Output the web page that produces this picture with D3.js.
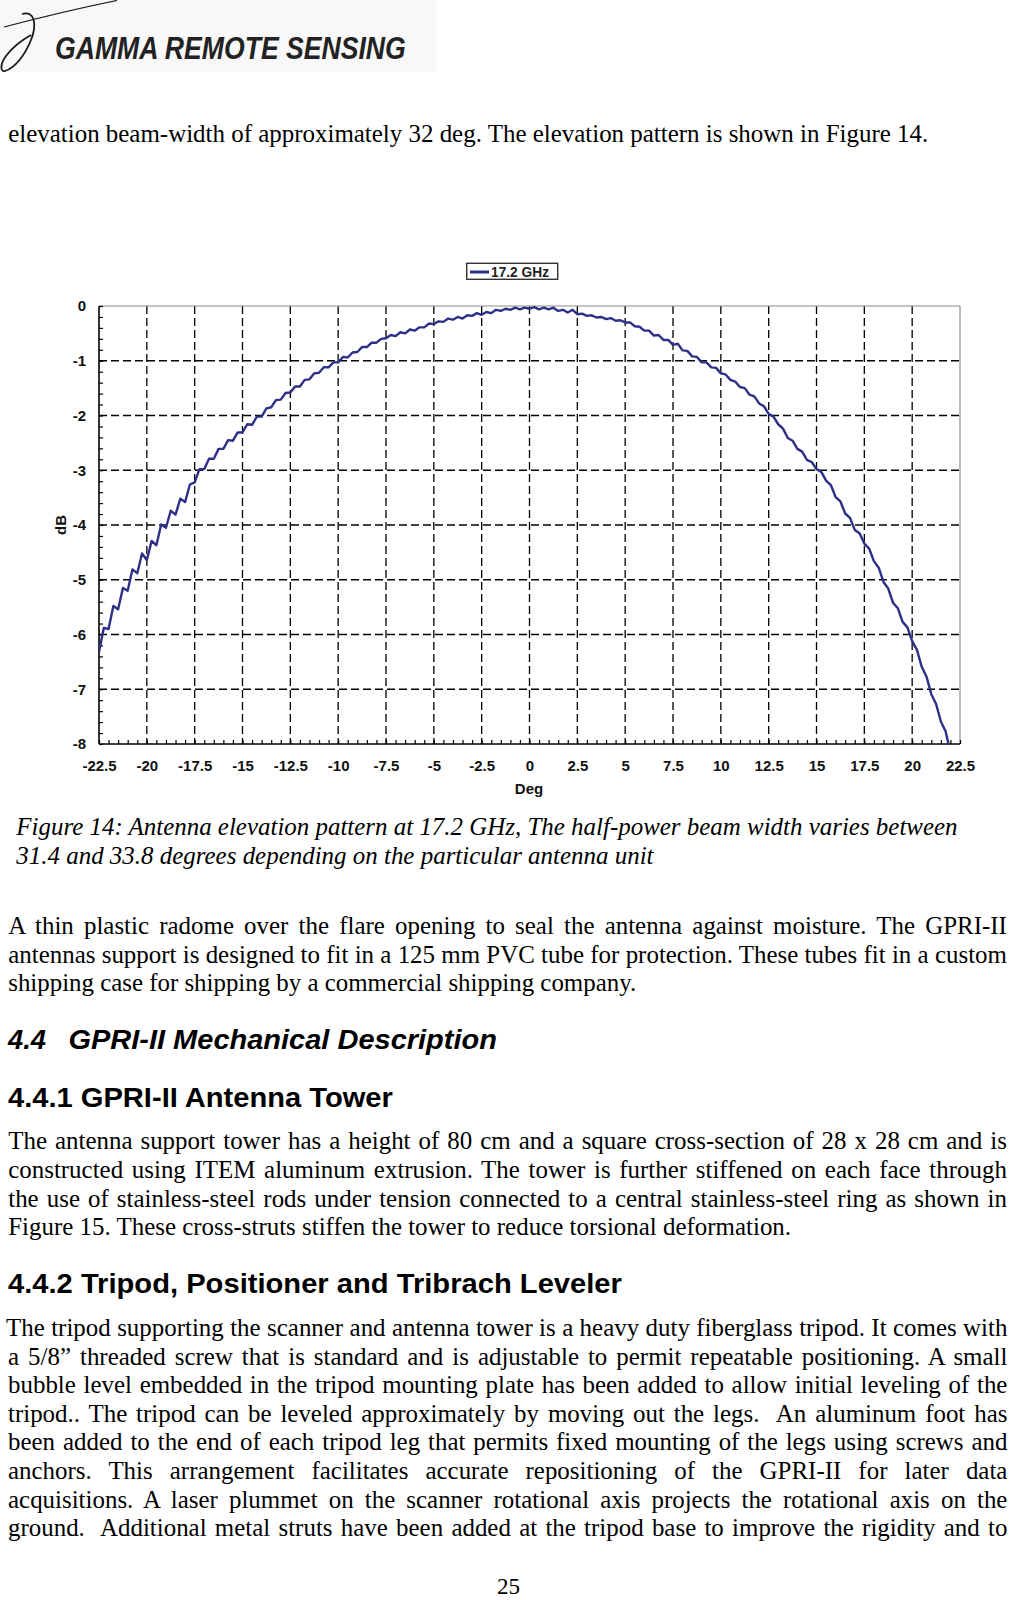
<!DOCTYPE html>
<html>
<head>
<meta charset="utf-8">
<script src="https://cdn.jsdelivr.net/npm/d3@7"></script>
<style>
  html, body { margin: 0; padding: 0; background: #fff; }
  svg { display: block; }
  text { white-space: pre; }
</style>
</head>
<body>
<svg id="page" width="1009" height="1600"></svg>
<script>
// ---------------- DATA ----------------
const seriesName = "17.2 GHz";
const degValues = [
 -22.5,-22.25,-22,-21.75,-21.5,-21.25,-21,-20.75,-20.5,-20.25,-20,-19.75,-19.5,-19.25,-19,-18.75,-18.5,-18.25,-18,-17.75,
 -17.5,-17.25,-17,-16.75,-16.5,-16.25,-16,-15.75,-15.5,-15.25,-15,-14.75,-14.5,-14.25,-14,-13.75,-13.5,-13.25,-13,-12.75,
 -12.5,-12.25,-12,-11.75,-11.5,-11.25,-11,-10.75,-10.5,-10.25,-10,-9.75,-9.5,-9.25,-9,-8.75,-8.5,-8.25,-8,-7.75,
 -7.5,-7.25,-7,-6.75,-6.5,-6.25,-6,-5.75,-5.5,-5.25,-5,-4.75,-4.5,-4.25,-4,-3.75,-3.5,-3.25,-3,-2.75,
 -2.5,-2.25,-2,-1.75,-1.5,-1.25,-1,-0.75,-0.5,-0.25,0,0.25,0.5,0.75,1,1.25,1.5,1.75,2,2.25,
 2.5,2.75,3,3.25,3.5,3.75,4,4.25,4.5,4.75,5,5.25,5.5,5.75,6,6.25,6.5,6.75,7,7.25,
 7.5,7.75,8,8.25,8.5,8.75,9,9.25,9.5,9.75,10,10.25,10.5,10.75,11,11.25,11.5,11.75,12,12.25,
 12.5,12.75,13,13.25,13.5,13.75,14,14.25,14.5,14.75,15,15.25,15.5,15.75,16,16.25,16.5,16.75,17,17.25,
 17.5,17.75,18,18.25,18.5,18.75,19,19.25,19.5,19.75,20,20.25,20.5,20.75,21,21.25,21.5,21.75,21.9
];
const dbValues = [
 -6.32,-5.88,-5.90,-5.48,-5.54,-5.15,-5.20,-4.81,-4.88,-4.52,-4.64,-4.29,-4.37,-3.99,-4.05,-3.74,-3.81,-3.52,-3.58,-3.26,
 -3.22,-2.98,-2.98,-2.79,-2.79,-2.61,-2.61,-2.45,-2.46,-2.31,-2.31,-2.16,-2.17,-2.02,-2.02,-1.87,-1.85,-1.72,-1.71,-1.59,
 -1.58,-1.47,-1.47,-1.35,-1.34,-1.23,-1.22,-1.12,-1.12,-1.03,-1.03,-0.93,-0.94,-0.85,-0.84,-0.75,-0.75,-0.67,-0.67,-0.60,
 -0.59,-0.53,-0.55,-0.48,-0.50,-0.43,-0.45,-0.39,-0.39,-0.32,-0.33,-0.28,-0.29,-0.23,-0.25,-0.20,-0.23,-0.17,-0.18,-0.13,
 -0.16,-0.11,-0.13,-0.07,-0.09,-0.05,-0.07,-0.03,-0.06,-0.03,-0.05,-0.02,-0.06,-0.03,-0.06,-0.03,-0.09,-0.07,-0.12,-0.07,
 -0.15,-0.14,-0.18,-0.17,-0.21,-0.20,-0.24,-0.22,-0.27,-0.26,-0.30,-0.30,-0.37,-0.38,-0.45,-0.45,-0.54,-0.53,-0.62,-0.62,
 -0.71,-0.69,-0.81,-0.82,-0.92,-0.93,-1.03,-1.03,-1.12,-1.13,-1.23,-1.25,-1.35,-1.38,-1.48,-1.50,-1.62,-1.65,-1.78,-1.83,
 -1.97,-2.02,-2.16,-2.24,-2.41,-2.46,-2.61,-2.66,-2.81,-2.85,-2.98,-3.03,-3.19,-3.27,-3.49,-3.57,-3.79,-3.87,-4.09,-4.15,
 -4.34,-4.43,-4.66,-4.78,-5.04,-5.16,-5.42,-5.52,-5.77,-5.87,-6.12,-6.28,-6.59,-6.77,-7.09,-7.27,-7.59,-7.77,-8.00
];
const xTickValues = [-22.5,-20,-17.5,-15,-12.5,-10,-7.5,-5,-2.5,0,2.5,5,7.5,10,12.5,15,17.5,20,22.5];
const xTickLabels = ["-22.5","-20","-17.5","-15","-12.5","-10","-7.5","-5","-2.5","0","2.5","5","7.5","10","12.5","15","17.5","20","22.5"];
const yTickValues = [0,-1,-2,-3,-4,-5,-6,-7,-8];
const yTickLabels = ["0","-1","-2","-3","-4","-5","-6","-7","-8"];
const xAxisTitle = "Deg";
const yAxisTitle = "dB";

// ---------------- PAGE TEXT ----------------
const headerText = "GAMMA REMOTE SENSING";
const introLine = "elevation beam-width of approximately 32 deg. The elevation pattern is shown in Figure 14.";
const captionLines = [
  "Figure 14: Antenna elevation pattern at 17.2 GHz, The half-power beam width varies between",
  "31.4 and 33.8 degrees depending on the particular antenna unit"
];
const para1 = [
  "A thin plastic radome over the flare opening to seal the antenna against moisture. The GPRI-II",
  "antennas support is designed to fit in a 125 mm PVC tube for protection. These tubes fit in a custom",
  "shipping case for shipping by a commercial shipping company."
];
const heading44num = "4.4";
const heading44 = "GPRI-II Mechanical Description";
const heading441 = "4.4.1 GPRI-II Antenna Tower";
const para2 = [
  "The antenna support tower has a height of 80 cm and a square cross-section of 28 x 28 cm and is",
  "constructed using ITEM aluminum extrusion. The tower is further stiffened on each face through",
  "the use of stainless-steel rods under tension connected to a central stainless-steel ring as shown in",
  "Figure 15. These cross-struts stiffen the tower to reduce torsional deformation."
];
const heading442 = "4.4.2 Tripod, Positioner and Tribrach Leveler";
const para3 = [
  "The tripod supporting the scanner and antenna tower is a heavy duty fiberglass tripod. It comes with",
  "a 5/8\u201D threaded screw that is standard and is adjustable to permit repeatable positioning. A small",
  "bubble level embedded in the tripod mounting plate has been added to allow initial leveling of the",
  "tripod.. The tripod can be leveled approximately by moving out the legs.  An aluminum foot has",
  "been added to the end of each tripod leg that permits fixed mounting of the legs using screws and",
  "anchors. This arrangement facilitates accurate repositioning of the GPRI-II for later data",
  "acquisitions. A laser plummet on the scanner rotational axis projects the rotational axis on the",
  "ground.  Additional metal struts have been added at the tripod base to improve the rigidity and to"
];
const pageNumber = "25";

// ---------------- DRAW ----------------
const svg = d3.select("#page");
const SERIF = "'Liberation Serif','Times New Roman',serif";
const SANS = "'Liberation Sans',Arial,sans-serif";

// helpers for text lines (horizontal condensing through a transform)
function measure(str, font, size, weight, style) {
  const t = svg.append("text").attr("font-family",font).attr("font-size",size)
    .attr("font-weight",weight||"normal").attr("font-style",style||"normal").text(str);
  const w = t.node().getComputedTextLength(); t.remove(); return w;
}
function line(str, x, y, target, opts) {
  const o = Object.assign({font:SERIF,size:26,weight:"normal",style:"normal",justify:false,c:1,fill:"#000"}, opts||{});
  const gg = svg.append("g");
  const t = gg.append("text").attr("x",0).attr("y",0).attr("font-family",o.font).attr("font-size",o.size)
    .attr("font-weight",o.weight).attr("font-style",o.style).attr("fill",o.fill).text(str);
  let w = t.node().getComputedTextLength();
  let s;
  if (o.justify) {
    const n = (str.match(/ /g)||[]).length;
    const ws = (target / o.c - w) / n;
    t.style("word-spacing", ws + "px");
    w = t.node().getComputedTextLength();
    s = target / w;
  } else {
    s = target / w;
  }
  gg.attr("transform", `translate(${x},${y}) scale(${s},1)`);
  return gg;
}

// header
svg.append("rect").attr("x",0).attr("y",0).attr("width",436).attr("height",72).attr("fill","#f8f8f8");
svg.append("path").attr("d","M117,0.5 C90,6 50,15 4,27").attr("fill","none").attr("stroke","#1a1a1a").attr("stroke-width",1.2);
svg.append("path").attr("d","M22,14 C35,10 37,25 31,40 C25,55 15,68 5,71 C0,72 0,64 6,56 C12,48 22,40 31,35")
  .attr("fill","none").attr("stroke","#1a1a1a").attr("stroke-width",1.8);
line(headerText, 55, 59, 351, {font:SANS, size:31, weight:"bold", style:"italic", fill:"#222"});

const BODY = 26;
const cA = 920.4 / measure(introLine, SERIF, BODY);
const cB = 628.5 / measure(para1[2], SERIF, BODY);
const cC = 783 / measure(para2[3], SERIF, BODY);
const cBody = (cA + cB + cC) / 3;

line(introLine, 8.2, 141.5, 920.4);

// caption
line(captionLines[0], 16.3, 835, 941.7, {style:"italic"});
line(captionLines[1], 16.3, 863.5, 637.7, {style:"italic"});

// paragraph 1
const p1y = [934, 962.5, 991];
line(para1[0], 8.2, p1y[0], 998.8, {justify:true, c:cBody});
line(para1[1], 8.2, p1y[1], 998.8, {justify:true, c:cBody});
line(para1[2], 8.2, p1y[2], 628.5);

// headings
line(heading44num, 8, 1048.5, 38, {font:SANS, size:28, weight:"bold", style:"italic"});
line(heading44, 68.4, 1048.5, 428.6, {font:SANS, size:28, weight:"bold", style:"italic"});
line(heading441, 8, 1107, 385, {font:SANS, size:28, weight:"bold"});

// paragraph 2
const p2y = [1149.3, 1177.9, 1206.5, 1235];
for (let i = 0; i < 3; i++) line(para2[i], 8.2, p2y[i], 998.8, {justify:true, c:cBody});
line(para2[3], 8.2, p2y[3], 783);

line(heading442, 8, 1292.5, 614, {font:SANS, size:28, weight:"bold"});

// paragraph 3
const p3y = [1336, 1364.5, 1393.2, 1421.8, 1450.3, 1478.9, 1507.5, 1536];
para3.forEach((s, i) => {
  const x0 = i === 0 ? 6 : 8;
  line(s, x0, p3y[i], 1007.5 - x0, {justify:true, c:cBody});
});

// page number
line(pageNumber, 497, 1594, 23, {size:23});

// ---------------- CHART ----------------
const L = 99, R = 960, T = 306, B = 744;
const x = d3.scaleLinear().domain([-22.5, 22.5]).range([L, R]);
const y = d3.scaleLinear().domain([-8, 0]).range([B, T]);
const g = svg.append("g");

// grid
g.append("g").selectAll("line").data(xTickValues.slice(1, -1)).join("line")
  .attr("x1", d => x(d)).attr("x2", d => x(d)).attr("y1", T).attr("y2", B)
  .attr("stroke","#000").attr("stroke-width",1.3).attr("stroke-dasharray","8,4");
g.append("g").selectAll("line").data(yTickValues.slice(1, -1)).join("line")
  .attr("x1", L).attr("x2", R).attr("y1", d => y(d)).attr("y2", d => y(d))
  .attr("stroke","#000").attr("stroke-width",1.3).attr("stroke-dasharray","8,4");

// top/right border
g.append("line").attr("x1",L).attr("x2",R).attr("y1",T).attr("y2",T).attr("stroke","#8c8c8c").attr("stroke-width",1.2);
g.append("line").attr("x1",R).attr("x2",R).attr("y1",T).attr("y2",B).attr("stroke","#8c8c8c").attr("stroke-width",1.2);

// minor ticks
const xMinor = d3.range(-22.5, 22.51, 0.5);
const yMinor = d3.range(-8, 0.01, 0.2);
g.append("g").attr("transform",`translate(0,${B})`)
  .call(d3.axisBottom(x).tickValues(xMinor).tickSize(-4).tickFormat(""))
  .call(s => s.select(".domain").remove())
  .selectAll("line").attr("stroke","#000").attr("stroke-width",1.2);
g.append("g").attr("transform",`translate(${L},0)`)
  .call(d3.axisLeft(y).tickValues(yMinor).tickSize(-4).tickFormat(""))
  .call(s => s.select(".domain").remove())
  .selectAll("line").attr("stroke","#000").attr("stroke-width",1.2);

// axis labels
const xAxis = g.append("g").attr("transform",`translate(0,${B})`)
  .call(d3.axisBottom(x).tickValues(xTickValues).tickSize(0).tickPadding(16)
    .tickFormat((d, i) => xTickLabels[i]));
xAxis.select(".domain").remove();
xAxis.selectAll("text").attr("font-family",SANS).attr("font-weight","bold").attr("font-size",15).attr("fill","#111");
const yAxis = g.append("g").attr("transform",`translate(${L},0)`)
  .call(d3.axisLeft(y).tickValues(yTickValues).tickSize(0).tickPadding(13)
    .tickFormat((d, i) => yTickLabels[i]));
yAxis.select(".domain").remove();
yAxis.selectAll("text").attr("font-family",SANS).attr("font-weight","bold").attr("font-size",15).attr("fill","#111");

// left & bottom axis lines
g.append("line").attr("x1",L).attr("x2",L).attr("y1",T).attr("y2",B).attr("stroke","#000").attr("stroke-width",1.6);
g.append("line").attr("x1",L).attr("x2",R).attr("y1",B).attr("y2",B).attr("stroke","#000").attr("stroke-width",1.6);

// titles
g.append("text").attr("x",529).attr("y",794).attr("text-anchor","middle").attr("font-family",SANS)
  .attr("font-weight","bold").attr("font-size",15).attr("fill","#111").text(xAxisTitle);
g.append("text").attr("transform","translate(66,525) rotate(-90)").attr("text-anchor","middle").attr("font-family",SANS)
  .attr("font-weight","bold").attr("font-size",15).attr("fill","#111").text(yAxisTitle);

// curve
svg.append("clipPath").attr("id","plotclip").append("rect").attr("x",L).attr("y",T-3).attr("width",R-L).attr("height",B-T+3);
const pts = degValues.map((d, i) => [d, dbValues[i]]);
g.append("path").datum(pts).attr("clip-path","url(#plotclip)")
  .attr("d", d3.line().x(d => x(d[0])).y(d => y(d[1])))
  .attr("fill","none").attr("stroke","#2e3087").attr("stroke-width",2.4).attr("stroke-linejoin","round");

// legend
const lg = svg.append("g");
lg.append("rect").attr("x",466.7).attr("y",263.3).attr("width",91).attr("height",16)
  .attr("fill","#fff").attr("stroke","#333").attr("stroke-width",1.4);
lg.append("line").attr("x1",470).attr("x2",489).attr("y1",272).attr("y2",272).attr("stroke","#2e3087").attr("stroke-width",3);
lg.append("text").attr("x",491).attr("y",277).attr("font-family",SANS).attr("font-weight","bold")
  .attr("font-size",14).attr("fill","#222").attr("textLength",58).attr("lengthAdjust","spacingAndGlyphs").text(seriesName);
</script>
</body>
</html>
